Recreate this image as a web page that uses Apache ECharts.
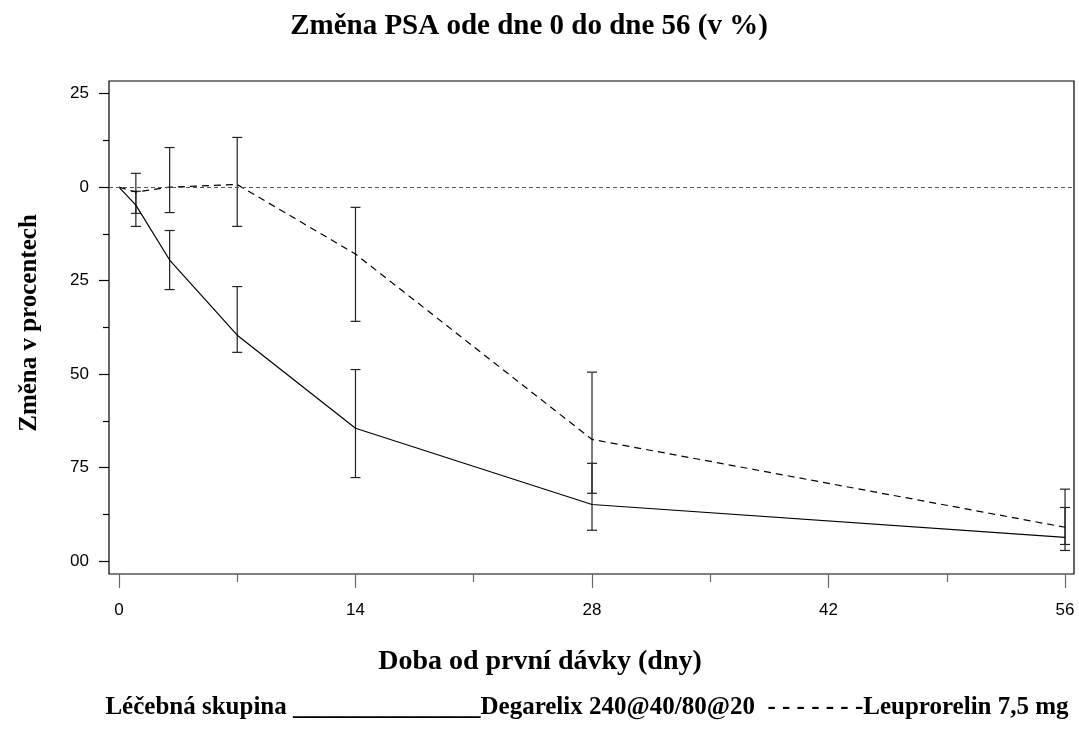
<!DOCTYPE html>
<html>
<head>
<meta charset="utf-8">
<script src="https://cdn.jsdelivr.net/npm/echarts@6/dist/echarts.min.js"></script>
<style>
  html, body { margin: 0; padding: 0; background: #fff; }
  #psa-chart { width: 1079px; height: 736px; }
</style>
</head>
<body>
<div id="psa-chart"></div>
<script>
// data
var days = [0, 1, 3, 7, 14, 28, 56];
var degarelixMean = [0, -4.8, -19.5, -39.6, -64.5, -84.9, -93.7];
var degarelixLow  = [null, -7.0, -27.4, -44.2, -77.7, -91.8, -95.6];
var degarelixHigh = [null, -1.1, -11.6, -26.6, -48.8, -73.9, -85.7];
var leuproMean = [0, -1.3, 0, 0.7, -17.9, -67.5, -91.0];
var leuproLow  = [null, -10.5, -6.8, -10.5, -35.9, -81.9, -97.2];
var leuproHigh = [null, 3.7, 10.6, 13.3, -5.4, -49.5, -80.8];

var xTicks = [0, 14, 28, 42, 56];
var xMinorTicks = [7, 21, 35, 49];
var yTicks = [25, 0, -25, -50, -75, -100];
var yMinorTicks = [12.5, -12.5, -37.5, -62.5, -87.5];

var serifFamily = '"Liberation Serif", "Times New Roman", serif';
var sansFamily = '"Liberation Sans", Arial, sans-serif';

function pairs(xs, ys) {
    return xs.map(function (x, i) { return [x, ys[i]]; });
}
function bars(xs, lo, hi) {
    var out = [];
    xs.forEach(function (x, i) {
        if (lo[i] != null) out.push([x, lo[i], hi[i]]);
    });
    return out;
}

// vertical bar with caps
function renderErrorBar(params, api) {
    var top = api.coord([api.value(0), api.value(2)]);
    var bot = api.coord([api.value(0), api.value(1)]);
    var w = 5;
    var st = { stroke: '#222', lineWidth: 1.2 };
    return {
        type: 'group',
        children: [
            { type: 'line', shape: { x1: top[0], y1: top[1], x2: bot[0], y2: bot[1] }, style: st },
            { type: 'line', shape: { x1: top[0] - w, y1: top[1], x2: top[0] + w, y2: top[1] }, style: st },
            { type: 'line', shape: { x1: bot[0] - w, y1: bot[1], x2: bot[0] + w, y2: bot[1] }, style: st }
        ]
    };
}

var chart = echarts.init(document.getElementById('psa-chart'));
var option = {
    animation: false,
    backgroundColor: '#fff',
    grid: {
        left: 109,
        right: 5,
        top: 81,
        bottom: 162,
        show: true,
        borderColor: '#000',
        borderWidth: 1.2
    },
    xAxis: [
        {
            type: 'value',
            min: -0.59,
            max: 56.53,
            position: 'bottom',
            axisLine: { show: false, onZero: false },
            splitLine: { show: false },
            axisTick: {
                customValues: xTicks,
                length: 14,
                lineStyle: { color: '#666', width: 1.2 }
            },
            axisLabel: {
                customValues: xTicks,
                margin: 28,
                fontSize: 17,
                fontFamily: sansFamily,
                color: '#000'
            }
        },
        {
            type: 'value',
            min: -0.59,
            max: 56.53,
            position: 'bottom',
            axisLine: { show: false, onZero: false },
            splitLine: { show: false },
            axisTick: {
                customValues: xMinorTicks,
                length: 8,
                lineStyle: { color: '#666', width: 1.2 }
            },
            axisLabel: { show: false }
        }
    ],
    yAxis: [
        {
            type: 'value',
            min: -103.5,
            max: 28.4,
            position: 'left',
            axisLine: { show: false, onZero: false },
            splitLine: { show: false },
            axisTick: {
                customValues: yTicks,
                length: 10,
                lineStyle: { color: '#000', width: 1.2 }
            },
            axisLabel: {
                customValues: yTicks,
                margin: 20,
                fontSize: 17,
                fontFamily: sansFamily,
                color: '#000'
            }
        },
        {
            type: 'value',
            min: -103.5,
            max: 28.4,
            position: 'left',
            axisLine: { show: false, onZero: false },
            splitLine: { show: false },
            axisTick: {
                customValues: yMinorTicks,
                length: 6,
                lineStyle: { color: '#000', width: 1.2 }
            },
            axisLabel: { show: false }
        }
    ],
    graphic: [
        // the left edge of the page cuts the tick labels
        {
            type: 'rect',
            z: 100,
            shape: { x: 0, y: 70, width: 70.5, height: 520 },
            style: { fill: '#fff' }
        },
        {
            type: 'text',
            z: 101,
            x: 529,
            y: 27,
            style: {
                text: 'Změna PSA ode dne 0 do dne 56 (v %)',
                font: 'bold 29px ' + serifFamily,
                fill: '#000',
                align: 'center',
                verticalAlign: 'middle'
            }
        },
        {
            type: 'text',
            z: 101,
            x: 30,
            y: 323,
            rotation: Math.PI / 2,
            style: {
                text: 'Změna v procentech',
                font: 'bold 25px ' + serifFamily,
                fill: '#000',
                align: 'center',
                verticalAlign: 'middle'
            }
        },
        {
            type: 'text',
            z: 101,
            x: 540,
            y: 662,
            style: {
                text: 'Doba od první dávky (dny)',
                font: 'bold 28px ' + serifFamily,
                fill: '#000',
                align: 'center',
                verticalAlign: 'middle'
            }
        },
        {
            type: 'text',
            z: 101,
            x: 587,
            y: 708,
            style: {
                text: 'Léčebná skupina _______________Degarelix 240@40/80@20  - - - - - - -Leuprorelin 7,5 mg',
                font: 'bold 25px ' + serifFamily,
                fill: '#000',
                align: 'center',
                verticalAlign: 'middle'
            }
        }
    ],
    series: [
        {
            name: 'Degarelix 240@40/80@20',
            type: 'line',
            data: pairs(days, degarelixMean),
            symbol: 'none',
            lineStyle: { color: '#000', width: 1.2 }
        },
        {
            name: 'Leuprorelin 7,5 mg',
            type: 'line',
            data: pairs(days, leuproMean),
            symbol: 'none',
            lineStyle: { color: '#000', width: 1.2, type: [7, 5] },
            markLine: {
                silent: true,
                symbol: 'none',
                label: { show: false },
                lineStyle: { color: '#555', width: 1.2, type: [4, 3] },
                data: [{ yAxis: 0 }]
            }
        },
        {
            type: 'custom',
            renderItem: renderErrorBar,
            data: bars(days, degarelixLow, degarelixHigh),
            encode: { x: 0, y: [1, 2] },
            z: 3
        },
        {
            type: 'custom',
            renderItem: renderErrorBar,
            data: bars(days, leuproLow, leuproHigh),
            encode: { x: 0, y: [1, 2] },
            z: 3
        }
    ]
};
chart.setOption(option);
</script>
</body>
</html>
